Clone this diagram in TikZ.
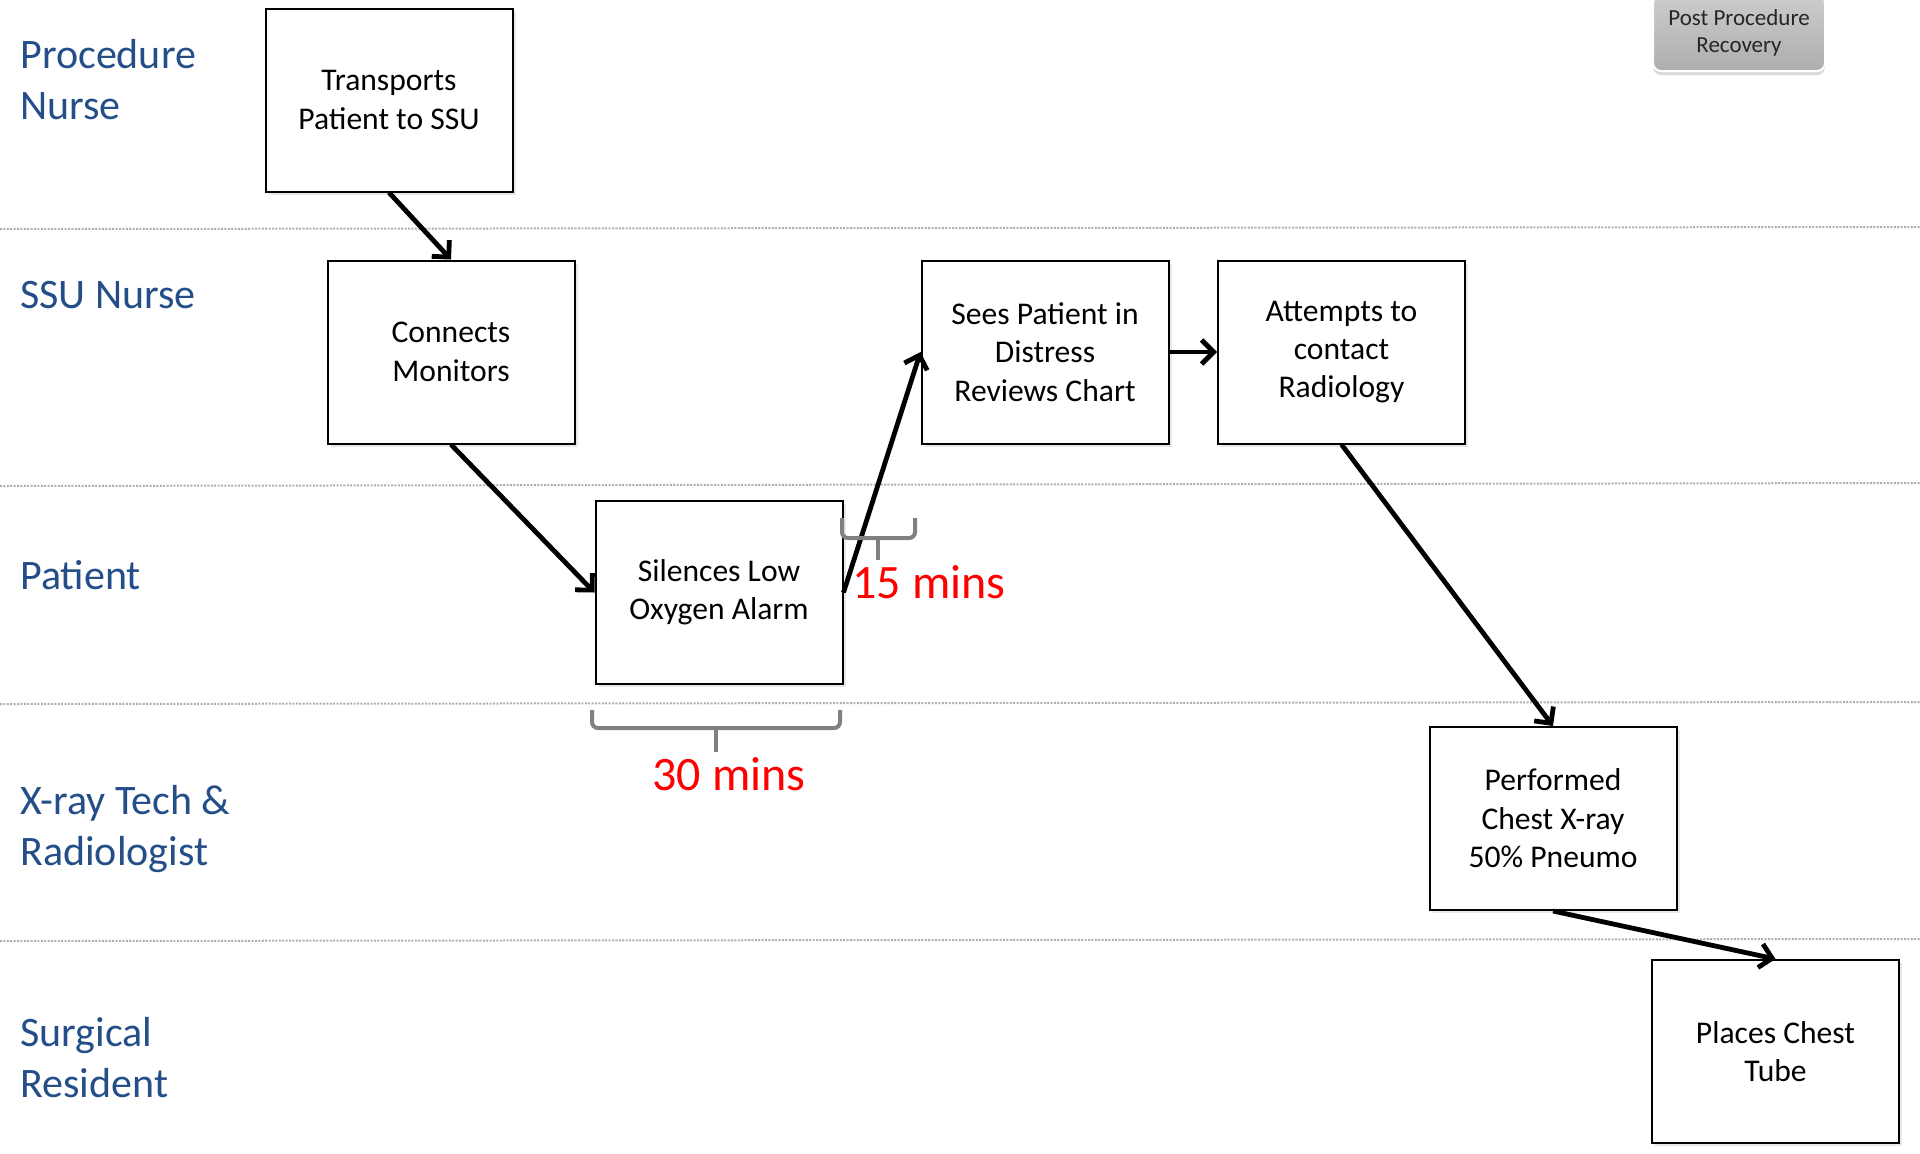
\documentclass[tikz,border=0pt]{standalone}
\usepackage{fontspec}
\setmainfont{Carlito}
\usetikzlibrary{arrows.meta,shadows}
\definecolor{laneblue}{RGB}{36,78,136}
\definecolor{bracegray}{RGB}{128,128,128}
\definecolor{dotgray}{RGB}{175,175,175}
\begin{document}
\begin{tikzpicture}[x=0.5pt,y=-0.5pt,
  stepbox/.style={draw=black,line width=1pt,fill=white,
    minimum width=123.5pt,minimum height=91.5pt,align=center,
    font=\fontsize{15.8}{19.2}\selectfont,
    drop shadow={shadow xshift=1.5pt,shadow yshift=-1.5pt,opacity=0.18}},
  lanelabel/.style={anchor=west,inner sep=0pt,align=left,text=laneblue,
    font=\fontsize{21}{25.5}\selectfont},
  flow/.style={line width=2.4pt,-{Straight Barb[length=6pt,width=12pt,line width=2.4pt]}},
  lanesep/.style={dotgray,line width=1pt,dash pattern=on 1pt off 0.7pt},
  timebrace/.style={bracegray,line width=2pt,rounded corners=3pt},
  timelabel/.style={text=red,inner sep=0pt,font=\fontsize{24}{28}\selectfont}]
  \useasboundingbox (0,0) rectangle (1920,1153);

  % swim-lane separators
  \coordinate (s1l) at (0,229);  \coordinate (s1r) at (1920,227);
  \coordinate (s2l) at (0,486);  \coordinate (s2r) at (1920,483);
  \coordinate (s3l) at (0,704);  \coordinate (s3r) at (1920,702);
  \coordinate (s4l) at (0,941);  \coordinate (s4r) at (1920,939);
  \draw[lanesep] (s1l) -- (s1r);
  \draw[lanesep] (s2l) -- (s2r);
  \draw[lanesep] (s3l) -- (s3r);
  \draw[lanesep] (s4l) -- (s4r);

  % lane titles
  \node[lanelabel] (lpn) at (20,80)   {Procedure\\Nurse};
  \node[lanelabel] (lssu) at (20,295) {SSU Nurse};
  \node[lanelabel] (lpat) at (20,575) {Patient};
  \node[lanelabel] (lxr) at (20,829)  {X-ray Tech \&\\Radiologist};
  \node[lanelabel] (lsr) at (20,1058) {Surgical\\Resident};

  % process steps
  \node[stepbox] (b1) at (389,100)    {Transports\\Patient to SSU};
  \node[stepbox] (b2) at (451,352)    {Connects\\Monitors};
  \node[stepbox] (b3) at (719,592.5)  {Silences Low\\Oxygen Alarm};
  \node[stepbox] (b4) at (1045,352)   {Sees Patient in\\Distress\\Reviews Chart};
  \node[stepbox] (b5) at (1341.5,352) {Attempts to\\contact\\Radiology};
  \node[stepbox] (b6) at (1553,818.5) {Performed\\Chest X-ray\\50\% Pneumo};
  \node[stepbox] (b7) at (1775.5,1051.5) {Places Chest\\Tube};

  % flow
  \draw[flow] (b1.south) -- (b2.north);
  \draw[flow] (b2.south) -- (b3.west);
  \draw[flow] (b3.east) -- (b4.west);
  \draw[flow] (b4.east) -- (b5.west);
  \draw[flow] (b5.south) -- (b6.north);
  \draw[flow] (b6.south) -- (b7.north);

  % elapsed-time braces
  \draw[timebrace] (842,518) -- (842,538) -- (915,538) -- (915,518);
  \draw[timebrace] (878,538) -- (878,560);
  \node[timelabel] (t15) at (929,582) {15 mins};
  \draw[timebrace] (592,710) -- (592,728) -- (840,728) -- (840,710);
  \draw[timebrace] (716,728) -- (716,752);
  \node[timelabel] (t30) at (729,774) {30 mins};

  % button
  \node[draw=white,line width=1pt,rounded corners=4pt,
    top color=black!20,bottom color=black!32,
    minimum width=86pt,minimum height=38pt,inner sep=0pt,align=center,
    font=\fontsize{11.5}{13.5}\selectfont,text=black!85,
    drop shadow={shadow xshift=0pt,shadow yshift=-2pt,opacity=0.3}]
    (ppr) at (1739,33) {Post Procedure\\Recovery};
\end{tikzpicture}
\end{document}
